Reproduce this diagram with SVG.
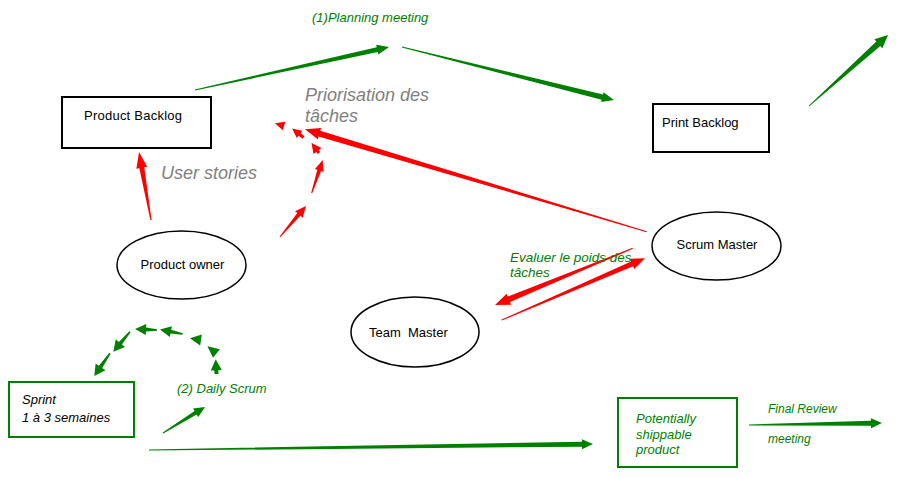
<svg xmlns="http://www.w3.org/2000/svg" width="898" height="477" viewBox="0 0 898 477">
<style>
.box{fill:#fff;stroke:#000;stroke-width:2}
.gbox{fill:#fff;stroke:#008000;stroke-width:2}
.ell{fill:#fff;stroke:#000;stroke-width:1.5}
.t{font-family:"Liberation Sans",Arial,sans-serif;font-size:13px;fill:#000}
.gi{font-family:"Liberation Sans",Arial,sans-serif;font-size:13px;font-style:italic;fill:#008000}
.bi{font-family:"Liberation Sans",Arial,sans-serif;font-size:13px;font-style:italic;fill:#000}
.gray{font-family:"Liberation Sans",Arial,sans-serif;font-size:18px;font-style:italic;fill:#808080}
.g{fill:#008000}
.r{fill:#ff0000}
</style>
<rect width="898" height="477" fill="#fff"/>

<g id="connectors">
  <!-- green -->
  <path class="g" transform="translate(195 90) rotate(-12.5)" d="M0 -0.5 L186.7 -2.5 L186.7 -5 L198.7 0 L186.7 5 L186.7 2.5 L0 0.5Z"/>
  <path class="g" transform="translate(402 47) rotate(14.04)" d="M0 -0.5 L206.5 -2.75 L206.5 -5 L218.5 0 L206.5 5 L206.5 2.75 L0 0.5Z"/>
  <path class="g" transform="translate(809 106) rotate(-41.94)" d="M0 -0.5 L93.2 -3 L93.2 -6 L106.2 0 L93.2 6 L93.2 3 L0 0.5Z"/>
  <path class="g" transform="translate(149 450) rotate(-0.774)" d="M0 -0.6 L433 -2.5 L433 -5 L444 0 L433 5 L433 2.5 L0 0.6Z"/>
  <path class="g" transform="translate(749 425) rotate(-0.86)" d="M0 -0.6 L122 -2.5 L122 -5 L133 0 L122 5 L122 2.5 L0 0.6Z"/>
  <path class="g" transform="translate(163 433) rotate(-31.76)" d="M0 -0.5 L38.4 -2 L38.4 -5 L49.4 0 L38.4 5 L38.4 2 L0 0.5Z"/>
  <!-- daily scrum loop -->
  <path class="g" transform="translate(110 353.3) rotate(124.67)" d="M0 -0.8 L16.6 -2 L16.6 -6 L27.6 0 L16.6 6 L16.6 2 L0 0.8Z"/>
  <path class="g" transform="translate(130 331.7) rotate(129.86)" d="M0 -0.8 L15 -2 L15 -6 L26 0 L15 6 L15 2 L0 0.8Z"/>
  <path class="g" transform="translate(157 330) rotate(-177.4)" d="M0 -0.8 L11 -2 L11 -5.5 L22 0 L11 5.5 L11 2 L0 0.8Z"/>
  <path class="g" transform="translate(182.7 334) rotate(-168.8)" d="M0 -0.8 L12.1 -2 L12.1 -5.5 L23.1 0 L12.1 5.5 L12.1 2 L0 0.8Z"/>
  <path class="g" transform="translate(201 340) rotate(-171.2)" d="M0 -5.5 L11.1 0 L0 5.5Z"/>
  <path class="g" transform="translate(216.5 353.5) rotate(-141.2)" d="M0 -5.5 L11.7 0 L0 5.5Z"/>
  <path class="g" transform="translate(216.5 374) rotate(-93.1)" d="M0 -2 L3.7 -2 L3.7 -5.5 L14.7 0 L3.7 5.5 L3.7 2 L0 2Z"/>
  <!-- red -->
  <path class="r" transform="translate(151 220) rotate(-100)" d="M0 -0.6 L53 -2.5 L53 -5.5 L69 0 L53 5.5 L53 2.5 L0 0.6Z"/>
  <path class="r" transform="translate(646.7 231.7) rotate(-163.32)" d="M0 -0.5 L341.7 -3 L341.7 -6 L356.7 0 L341.7 6 L341.7 3 L0 0.5Z"/>
  <path class="r" transform="translate(280 236.7) rotate(-49.74)" d="M0 -0.5 L29.2 -2 L29.2 -5 L40.2 0 L29.2 5 L29.2 2 L0 0.5Z"/>
  <path class="r" transform="translate(311.7 193) rotate(-71.57)" d="M0 -0.5 L23.8 -2 L23.8 -4.5 L34.8 0 L23.8 4.5 L23.8 2 L0 0.5Z"/>
  <path class="r" transform="translate(319 153) rotate(-126.87)" d="M0 -1.5 L2.5 -1.5 L2.5 -5 L12.5 0 L2.5 5 L2.5 1.5 L0 1.5Z"/>
  <path class="r" transform="translate(303.5 137.5) rotate(-141.7)" d="M0 -1.5 L5 -1.8 L5 -4.5 L14.5 0 L5 4.5 L5 1.8 L0 1.5Z"/>
  <path class="r" transform="translate(284 126) rotate(-163.3)" d="M0 -4.5 L9.4 0 L0 4.5Z"/>
  <path class="r" transform="translate(632.7 248.3) rotate(157.62)" d="M0 -0.5 L133.9 -3 L133.9 -6 L148.9 0 L133.9 6 L133.9 3 L0 0.5Z"/>
  <path class="r" transform="translate(501.7 320) rotate(-23.29)" d="M0 -0.5 L142 -2.5 L142 -5.5 L156 0 L142 5.5 L142 2.5 L0 0.5Z"/>
</g>

<g id="labels">
  <text class="gi" x="312" y="22">(1)Planning meeting</text>
  <text class="gray" x="305" y="101">Priorisation des</text>
  <text class="gray" x="305" y="122">tâches</text>
  <text class="gray" x="161" y="179">User stories</text>
  <text class="gi" x="510" y="262" style="font-size:13.5px">Evaluer le poids des</text>
  <text class="gi" x="510" y="277" style="font-size:13.5px">tâches</text>
  <text class="gi" x="177" y="393">(2) Daily Scrum</text>
  <text class="gi" x="768" y="413" style="font-size:12px">Final Review</text>
  <text class="gi" x="768" y="443" style="font-size:12px">meeting</text>
</g>

<g id="product-backlog">
  <rect class="box" x="62" y="97" width="149" height="51"/>
  <text class="t" x="84" y="120" textLength="98">Product Backlog</text>
</g>
<g id="print-backlog">
  <rect class="box" x="653" y="104" width="116" height="48"/>
  <text class="t" x="662" y="127">Print Backlog</text>
</g>
<g id="product-owner">
  <ellipse class="ell" cx="181.5" cy="265" rx="64.5" ry="34"/>
  <text class="t" x="182.5" y="269" text-anchor="middle">Product owner</text>
</g>
<g id="scrum-master">
  <ellipse class="ell" cx="716.5" cy="246" rx="64.5" ry="34"/>
  <text class="t" x="717" y="249" text-anchor="middle">Scrum Master</text>
</g>
<g id="team-master">
  <ellipse class="ell" cx="415" cy="332" rx="64" ry="35"/>
  <text class="t" x="369" y="337" xml:space="preserve">Team  Master</text>
</g>
<g id="sprint">
  <rect class="gbox" x="9" y="382" width="125" height="55"/>
  <text class="bi" x="22" y="404">Sprint</text>
  <text class="bi" x="22" y="422">1 à 3 semaines</text>
</g>
<g id="potentially-shippable">
  <rect class="gbox" x="618" y="398" width="119" height="69"/>
  <text class="gi" x="636" y="423">Potentially</text>
  <text class="gi" x="636" y="439">shippable</text>
  <text class="gi" x="636" y="454">product</text>
</g>
</svg>
